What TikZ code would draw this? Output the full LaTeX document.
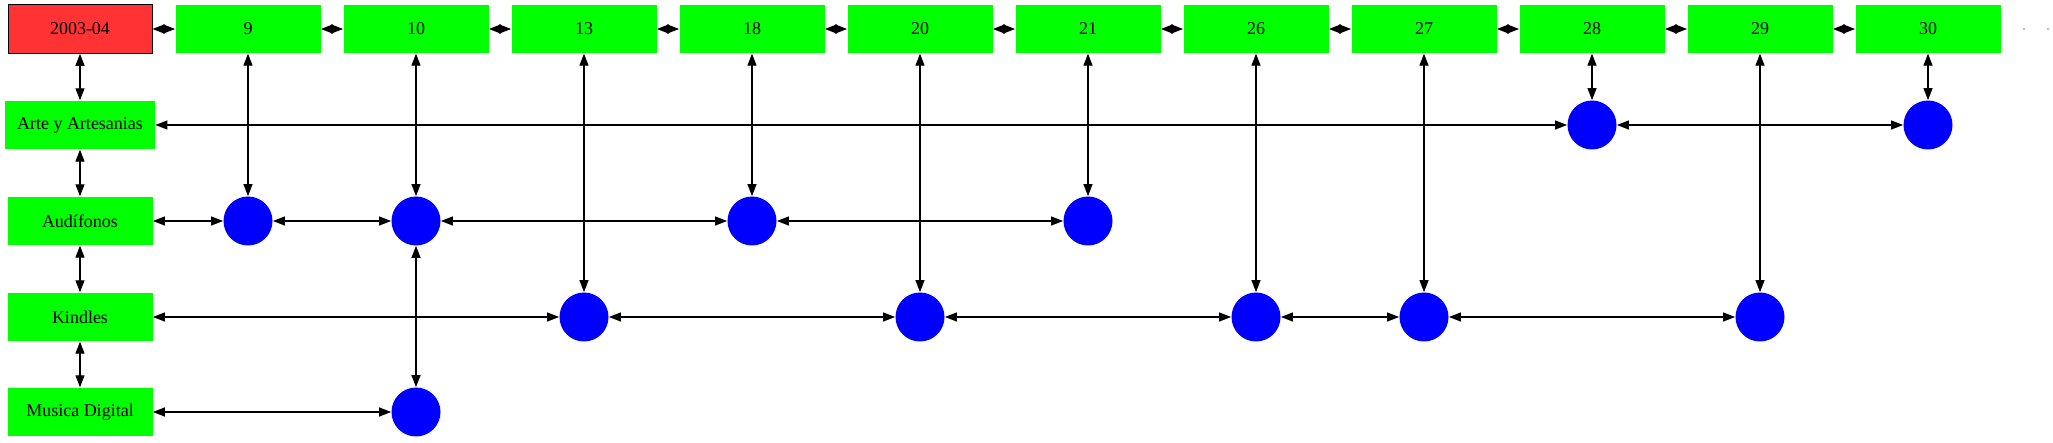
\documentclass[tikz,border=0pt]{standalone}
\usepackage{fontspec}
\setmainfont{Liberation Serif}
\usepackage{tikz}
\usetikzlibrary{arrows.meta}
\definecolor{rojo}{HTML}{FF3333}
\definecolor{verde}{HTML}{00FF00}
\definecolor{azul}{HTML}{0000FF}
\tikzset{
  caja/.style={rectangle,fill=verde,minimum width=72.5pt,minimum height=24.3pt,inner sep=0pt,font=\fontsize{9}{10}\selectfont},
  punto/.style={circle,fill=azul,minimum size=24.5pt,inner sep=0pt},
  enlace/.style={<->,line width=0.6pt}
}
\begin{document}
\begin{tikzpicture}[line cap=round,line join=round,>={Triangle[length=6pt,width=4.5pt]},x=0.5pt,y=-0.5pt]
\useasboundingbox (0,0) rectangle (2053,443);
\node[caja,fill=rojo,draw=black,line width=0.5pt,minimum width=72pt] (fecha) at (80,29) {2003-04};
\foreach \n [count=\i] in {9,10,13,18,20,21,26,27,28,29,30}
  \node[caja] (d\n) at ({80+168*\i},29) {\n};
\fill[gray] (2024,29) circle (0.8) coordinate (p1);
\fill[gray] (2048,29) circle (0.8) coordinate (p2);
\node[caja,minimum width=75pt] (arte) at (80,125) {Arte y Artesanias};
\node[caja] (audi) at (80,221) {Audífonos};
\node[caja] (kind) at (80,317) {Kindles};
\node[caja] (musi) at (80,412) {Musica Digital};
% circulos
\node[punto] (a28) at (d28 |- arte) {};
\node[punto] (a30) at (d30 |- arte) {};
\node[punto] (u9) at (d9 |- audi) {};
\node[punto] (u10) at (d10 |- audi) {};
\node[punto] (u18) at (d18 |- audi) {};
\node[punto] (u21) at (d21 |- audi) {};
\node[punto] (k13) at (d13 |- kind) {};
\node[punto] (k20) at (d20 |- kind) {};
\node[punto] (k26) at (d26 |- kind) {};
\node[punto] (k27) at (d27 |- kind) {};
\node[punto] (k29) at (d29 |- kind) {};
\node[punto] (m10) at (d10 |- musi) {};
% fila de fechas
\draw[enlace] (fecha) -- (d9);
\foreach \a/\b in {9/10,10/13,13/18,18/20,20/21,21/26,26/27,27/28,28/29,29/30}
  \draw[enlace] (d\a) -- (d\b);
% columna
\draw[enlace] (fecha) -- (arte);
\draw[enlace] (arte) -- (audi);
\draw[enlace] (audi) -- (kind);
\draw[enlace] (kind) -- (musi);
% filas
\draw[enlace] (arte) -- (a28);
\draw[enlace] (a28) -- (a30);
\draw[enlace] (audi) -- (u9);
\draw[enlace] (u9) -- (u10);
\draw[enlace] (u10) -- (u18);
\draw[enlace] (u18) -- (u21);
\draw[enlace] (kind) -- (k13);
\draw[enlace] (k13) -- (k20);
\draw[enlace] (k20) -- (k26);
\draw[enlace] (k26) -- (k27);
\draw[enlace] (k27) -- (k29);
\draw[enlace] (musi) -- (m10);
% verticales
\draw[enlace] (d9) -- (u9);
\draw[enlace] (d10) -- (u10);
\draw[enlace] (u10) -- (m10);
\draw[enlace] (d13) -- (k13);
\draw[enlace] (d18) -- (u18);
\draw[enlace] (d20) -- (k20);
\draw[enlace] (d21) -- (u21);
\draw[enlace] (d26) -- (k26);
\draw[enlace] (d27) -- (k27);
\draw[enlace] (d28) -- (a28);
\draw[enlace] (d29) -- (k29);
\draw[enlace] (d30) -- (a30);
\end{tikzpicture}
\end{document}
